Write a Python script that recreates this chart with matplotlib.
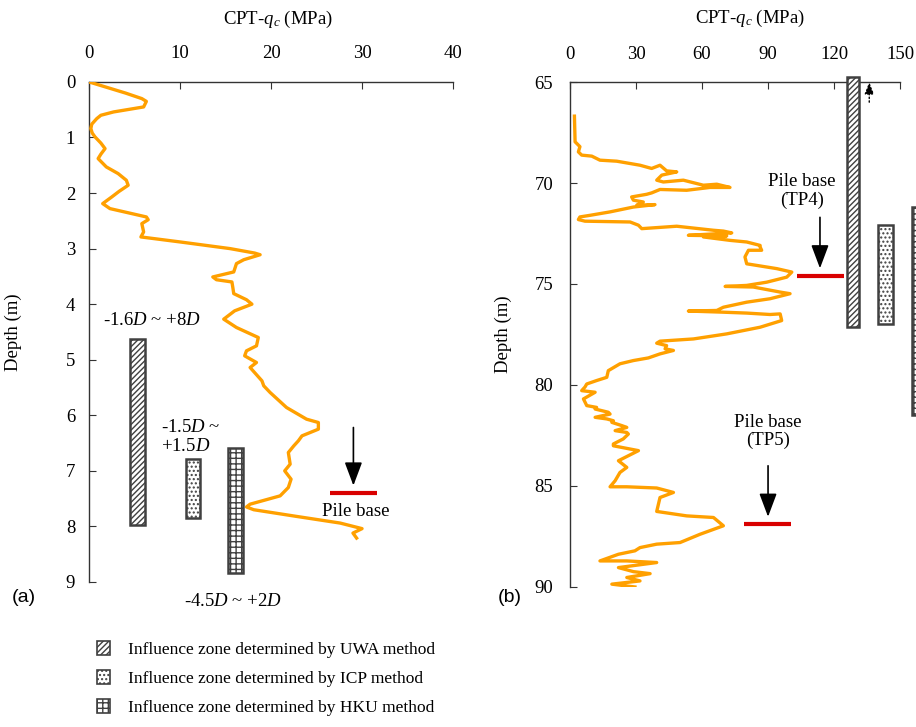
import matplotlib
matplotlib.use('Agg')
import matplotlib.pyplot as plt
from matplotlib.patches import Rectangle

plt.rcParams['font.family'] = ['Liberation Serif', 'DejaVu Serif']
plt.rcParams['mathtext.fontset'] = 'custom'
plt.rcParams['mathtext.rm'] = 'Liberation Serif'
plt.rcParams['mathtext.it'] = 'Liberation Serif:italic'
plt.rcParams['hatch.linewidth'] = 1.0

# ---- CPT profile, site (a) ----
depth_a = [0.00, 0.20, 0.30, 0.35, 0.45, 0.54, 0.60, 0.66, 0.76, 0.84, 0.92, 0.99,
           1.10, 1.20, 1.30, 1.38, 1.53, 1.65, 1.77, 1.86, 1.97, 2.07, 2.19, 2.28,
           2.43, 2.48, 2.55, 2.70, 2.79, 2.88, 3.00, 3.08, 3.11, 3.16, 3.20, 3.27,
           3.42, 3.51, 3.56, 3.60, 3.70, 3.81, 3.92, 4.00, 4.12, 4.27, 4.42, 4.60,
           4.75, 4.84, 4.93, 5.05, 5.14, 5.38, 5.47, 5.59, 5.86, 6.07, 6.13, 6.25,
           6.37, 6.46, 6.55, 6.67, 6.88, 7.00, 7.15, 7.30, 7.45, 7.60, 7.65, 7.70,
           7.82, 7.94, 8.04, 8.12, 8.21]
qc_a = [0.0, 4.0, 5.8, 6.3, 6.0, 2.7, 1.3, 0.85, 0.3, 0.2, 0.35, 0.66,
        1.3, 1.76, 1.3, 1.0, 1.9, 3.2, 4.1, 4.3, 3.3, 2.5, 1.5, 2.3,
        6.3, 6.5, 5.8, 6.0, 5.7, 10.0, 15.5, 18.2, 18.8, 17.8, 17.0, 16.2,
        15.9, 13.6, 14.0, 15.7, 15.8, 15.9, 17.3, 17.9, 16.0, 14.8, 16.2, 18.6,
        18.4, 17.3, 17.1, 18.4, 17.7, 19.0, 19.2, 19.9, 21.7, 23.9, 25.2, 25.2,
        23.4, 23.0, 22.5, 21.9, 22.1, 21.5, 22.2, 21.9, 21.0, 17.7, 17.3, 18.1,
        22.8, 27.6, 30.0, 29.0, 29.4]

# ---- CPT profile, site (b) ----
depth_b = [66.69, 67.96, 68.20, 68.46, 68.62, 68.67, 68.87, 68.92, 69.12, 69.28,
           69.12, 69.40, 69.45, 69.61, 69.86, 69.95, 69.86, 70.11, 70.06, 70.22,
           70.22, 70.36, 70.32, 70.49, 70.56, 70.69, 70.85, 70.94, 71.10, 71.07,
           71.19, 71.43, 71.60, 71.68, 71.81, 71.89, 71.93, 72.09, 72.26, 72.14,
           72.34, 72.38, 72.47, 72.59, 72.62, 72.67, 72.84, 72.92, 73.09, 73.17,
           73.33, 73.33, 73.66, 74.00, 74.24, 74.41, 74.66, 74.91, 75.07, 75.12,
           75.15, 75.40, 75.48, 75.73, 75.90, 76.15, 76.31, 76.34, 76.39, 76.44,
           76.51, 76.48, 76.81, 77.14, 77.47, 77.72, 77.83, 77.93, 78.05, 78.21,
           78.29, 78.46, 78.66, 78.79, 78.95, 79.29, 79.62, 79.78, 79.95, 80.10,
           80.28, 80.36, 80.69, 81.02, 81.11, 81.19, 81.35, 81.44, 81.60, 81.68,
           81.77, 81.85, 82.01, 82.10, 82.26, 82.35, 82.43, 82.67, 82.92, 83.01,
           83.25, 83.75, 84.08, 84.33, 84.74, 85.04, 85.04, 85.10, 85.32, 85.57,
           86.26, 86.48, 86.56, 86.97, 87.39, 87.80, 87.88, 88.05, 88.21, 88.38,
           88.71, 88.71, 88.79, 88.96, 89.04, 89.24, 89.34, 89.53, 89.70, 89.86,
           90.00]
qc_b = [2.0, 2.3, 4.5, 3.8, 5.3, 9.9, 13.6, 21.2, 31.8, 37.1,
        40.9, 43.9, 48.5, 41.7, 39.4, 42.4, 51.5, 60.6, 66.7, 72.7,
        63.6, 53.0, 40.9, 37.1, 34.8, 28.0, 28.8, 33.3, 30.3, 38.6,
        28.8, 18.2, 9.1, 4.5, 3.8, 6.8, 27.3, 31.1, 32.6, 48.5,
        65.2, 69.7, 73.5, 53.8, 71.2, 60.6, 72.7, 80.3, 86.4, 86.4,
        87.1, 81.1, 79.5, 80.3, 94.0, 100.8, 98.5, 89.4, 80.3, 70.5,
        83.3, 95.5, 100.0, 90.9, 80.3, 69.7, 66.7, 53.8, 68.2, 80.3,
        90.9, 95.5, 96.2, 86.4, 71.2, 56.1, 40.9, 39.4, 43.9, 43.2,
        47.0, 40.9, 35.6, 28.8, 22.7, 17.4, 16.7, 12.1, 7.6, 6.8,
        5.3, 11.4, 6.1, 7.6, 12.1, 11.4, 17.4, 18.2, 11.4, 16.7,
        19.7, 19.0, 23.5, 25.8, 20.5, 25.8, 26.5, 24.2, 19.7, 19.7,
        31.1, 22.0, 25.8, 22.7, 20.5, 18.2, 25.8, 39.4, 47.0, 40.9,
        39.4, 53.0, 65.2, 69.7, 59.1, 50.0, 39.4, 31.8, 29.5, 22.0,
        13.6, 25.8, 39.4, 27.3, 22.0, 28.8, 36.4, 25.8, 31.8, 19.0,
        29.5]

# influence zones: (qc_left, qc_right, depth_top, depth_bottom)
zones_a = {'UWA': (4.5, 6.2, 4.62, 7.98),
           'ICP': (10.6, 12.2, 6.79, 7.85),
           'HKU': (15.3, 16.95, 6.58, 8.84)}
zones_b = {'UWA': (126.0, 131.5, 64.75, 77.15),
           'ICP': (140.0, 146.7, 72.1, 77.0),
           'HKU': (155.5, 162.0, 71.2, 81.5)}

# pile base level: (qc_start, qc_end, depth)
base_a = (26.5, 31.6, 7.40)
base_tp4 = (103.0, 124.3, 74.6)
base_tp5 = (79.0, 100.3, 86.9)

hatches = {'UWA': '//////', 'ICP': '....', 'HKU': '+++'}
legend_names = ['UWA', 'ICP', 'HKU']

orange = '#FFA000'
edge = '#404040'
fs = 13.5

fig = plt.figure(figsize=(9.16, 7.27), dpi=100)
ax1 = fig.add_axes([0.0972, 0.1995, 0.3974, 0.6878])
ax2 = fig.add_axes([0.6223, 0.1926, 0.3603, 0.6946])


def style_axis(ax, xlim, ylim, xticks, yticks, ypad, xlab_x, ylab_x):
    ax.set_xlim(*xlim)
    ax.set_ylim(*ylim)
    ax.set_xticks(xticks)
    ax.set_yticks(yticks)
    ax.xaxis.tick_top()
    ax.xaxis.set_label_position('top')
    for s in ('right', 'bottom'):
        ax.spines[s].set_visible(False)
    for s in ('left', 'top'):
        ax.spines[s].set_color('#333333')
        ax.spines[s].set_linewidth(1.0)
    ax.tick_params(axis='x', direction='in', length=5, pad=14, labelsize=fs,
                   colors='#333333', labelcolor='black')
    ax.tick_params(axis='y', direction='in', length=5, pad=ypad, labelsize=fs,
                   colors='#333333', labelcolor='black')
    ax.set_xlabel('CPT-$q_c$ (MPa)', fontsize=fs)
    ax.xaxis.set_label_coords(xlab_x, 1.116)
    ax.set_ylabel('Depth (m)', fontsize=fs)
    ax.yaxis.set_label_coords(ylab_x, 0.5)


def draw_zone(ax, name, box):
    x0, x1, d0, d1 = box
    ax.add_patch(Rectangle((x0, d0), x1 - x0, d1 - d0, facecolor='white',
                           edgecolor=edge, hatch=hatches[name], lw=1.8,
                           clip_on=False, zorder=3))


def draw_base(ax, base, arrow_from, arrow_x):
    x0, x1, d = base
    ax.plot([x0, x1], [d, d], color='#D90000', lw=3, solid_capstyle='butt', zorder=4)
    ax.annotate('', xy=(arrow_x, d - 0.015 * (ax.get_ylim()[0] - ax.get_ylim()[1])),
                xytext=(arrow_x, arrow_from),
                arrowprops=dict(arrowstyle='-|>,head_length=1.2,head_width=0.45',
                                mutation_scale=12, color='black', lw=1.2,
                                shrinkA=0, shrinkB=0))


# ---- panel (a) ----
style_axis(ax1, (0, 40), (9, 0), [0, 10, 20, 30, 40], range(0, 10), 10, 0.52, -0.184)
ax1.plot(qc_a, depth_a, color=orange, lw=2.4, zorder=5, solid_joinstyle='round')
for name, box in zones_a.items():
    draw_zone(ax1, name, box)
draw_base(ax1, base_a, 6.22, 29.05)
ax1.text(29.3, 7.74, 'Pile base', fontsize=fs, ha='center', va='center')
ax1.text(6.9, 4.30, '-1.6$D$ ~ +8$D$', fontsize=fs, ha='center', va='center')
ax1.text(7.9, 6.39, '-1.5$D$ ~\n+1.5$D$', fontsize=fs, ha='left', va='center',
         linespacing=1.2)
ax1.text(15.8, 9.35, '-4.5$D$ ~ +2$D$', fontsize=fs, ha='center', va='center',
         clip_on=False)

# ---- panel (b) ----
style_axis(ax2, (0, 150), (90, 65), [0, 30, 60, 90, 120, 150],
           [65, 70, 75, 80, 85, 90], 12, 0.545, -0.176)
ax2.plot(qc_b, depth_b, color=orange, lw=2.4, zorder=5, solid_joinstyle='round')
for name, box in zones_b.items():
    draw_zone(ax2, name, box)
draw_base(ax2, base_tp4, 71.7, 113.6)
draw_base(ax2, base_tp5, 84.0, 90.0)
ax2.text(105.5, 70.4, 'Pile base\n(TP4)', fontsize=fs, ha='center', va='center',
         linespacing=1.1)
ax2.text(90.0, 82.3, 'Pile base\n(TP5)', fontsize=fs, ha='center', va='center',
         linespacing=1.1)
# UWA zone for TP4 carries on above the plotted range
ax2.annotate('', xy=(136.0, 65.0), xytext=(136.0, 66.0), annotation_clip=False,
             arrowprops=dict(arrowstyle='-|>,head_length=0.9,head_width=0.35',
                             mutation_scale=8, color='black', lw=1.0,
                             linestyle=':', shrinkA=0, shrinkB=0))

# panel tags
fig.text(24 / 916, 1 - 597 / 727, '(a)', fontsize=14, family='Liberation Sans',
         ha='center', va='center')
fig.text(510 / 916, 1 - 597 / 727, '(b)', fontsize=14, family='Liberation Sans',
         ha='center', va='center')

# legend drawn in figure space
W, H = 916.0, 727.0
for i, name in enumerate(legend_names):
    yc = 648 + 29 * i
    fig.add_artist(Rectangle((97 / W, 1 - (yc + 7) / H), 13 / W, 14 / H,
                             transform=fig.transFigure, facecolor='white',
                             edgecolor=edge, hatch=hatches[name], lw=1.2))
    fig.text(128 / W, 1 - (yc + 2) / H,
             'Influence zone determined by %s method' % name,
             fontsize=12.5, ha='left', va='center')

fig.savefig('out.png', dpi=100)
plt.close(fig)
